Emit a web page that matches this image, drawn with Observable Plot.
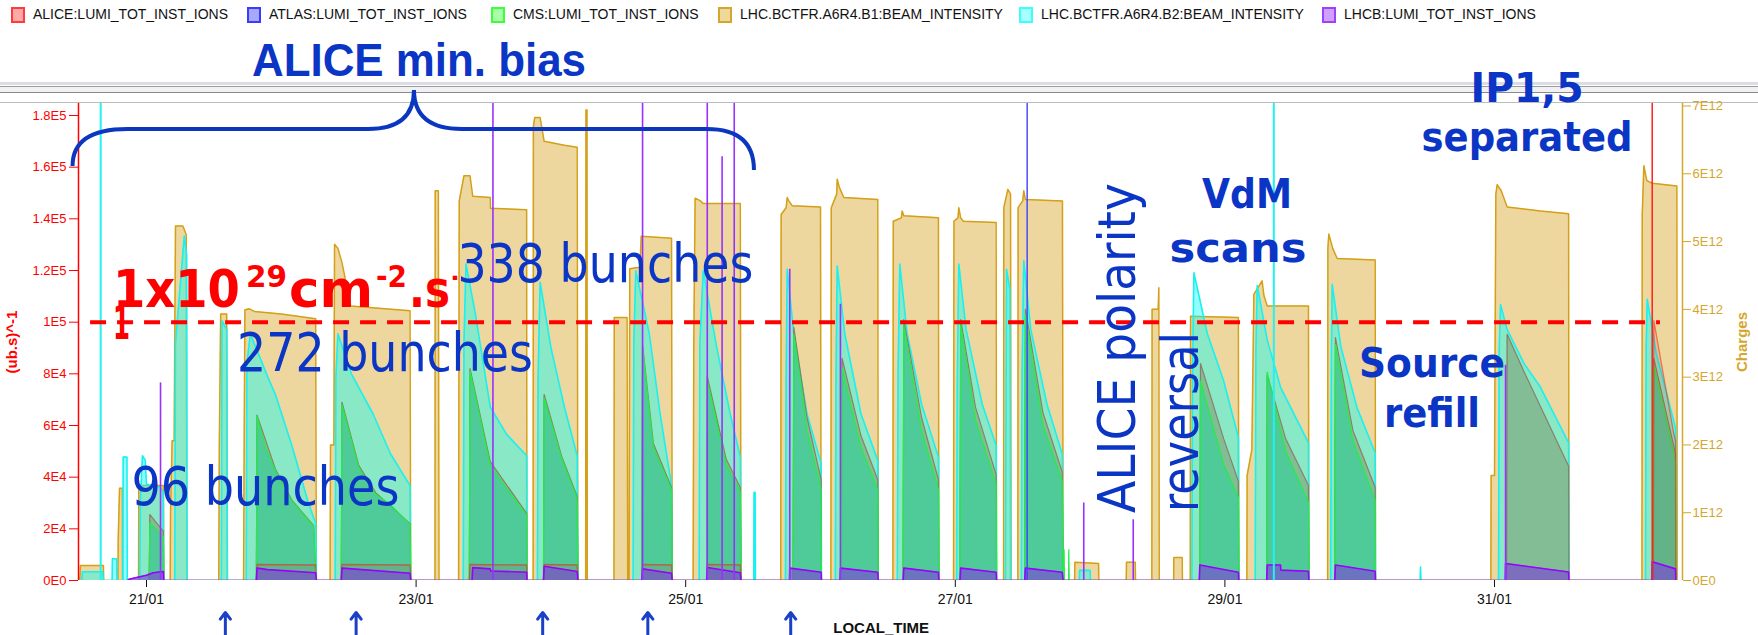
<!DOCTYPE html>
<html><head><meta charset="utf-8">
<script src="https://cdn.jsdelivr.net/npm/d3@7"></script>
<script src="https://cdn.jsdelivr.net/npm/@observablehq/plot@0.6"></script>
<style>
body{margin:0;background:#fff}
#wrap{position:relative;width:1758px;height:635px;overflow:hidden;background:#fff;font-family:"Liberation Sans",Arial,sans-serif}
.sw{position:absolute;top:7px;width:10px;height:12px;border:2px solid}
.lt{position:absolute;top:6px;font-size:14px;line-height:16px;white-space:nowrap;color:#111}
.hl{position:absolute;left:0;width:1758px}
#chart{position:absolute;left:0;top:28px}
</style></head><body>
<div id="wrap">
  <div class="hl" style="top:82px;height:3px;background:#dcdce4"></div>
  <div class="hl" style="top:86px;height:1px;background:#9a9a9a"></div>
  <div class="hl" style="top:87px;height:5px;background:#f1f1f4"></div>
  <div class="hl" style="top:92px;height:1px;background:#8a8a8a"></div>
  <div class="hl" style="top:102px;height:1px;background:#bdbdbd"></div>
  <div id="legend"></div>
  <div id="chart"></div>
</div>
<script>
// ---------- legend ----------
const legendNames = ["ALICE:LUMI_TOT_INST_IONS","ATLAS:LUMI_TOT_INST_IONS","CMS:LUMI_TOT_INST_IONS","LHC.BCTFR.A6R4.B1:BEAM_INTENSITY","LHC.BCTFR.A6R4.B2:BEAM_INTENSITY","LHCB:LUMI_TOT_INST_IONS"];
const legendBorders = ["#ff3b3b","#3b3bff","#3bff3b","#d4a72c","#3bffff","#a040ff"];
const legendFills = ["#ffa8a8","#a8a8ff","#a8ffa8","#eed99c","#a8ffff","#d0a0ff"];

// ---------- axes ----------
const days = [21,23,25,27,29,31];
const dayLabels = ["21/01","23/01","25/01","27/01","29/01","31/01"];
const lumiTicks = [0,2e4,4e4,6e4,8e4,1e5,1.2e5,1.4e5,1.6e5,1.8e5];
const lumiTickLabels = ["0E0","2E4","4E4","6E4","8E4","1E5","1.2E5","1.4E5","1.6E5","1.8E5"];
const chargeTicks = [0,1e12,2e12,3e12,4e12,5e12,6e12,7e12];
const chargeTickLabels = ["0E0","1E12","2E12","3E12","4E12","5E12","6E12","7E12"];

// ---------- data: [day of January, value] ----------
// beam intensities in units of 1E12 charges
const b1 = [
[20.505,0],[20.51,0.22],[20.68,0.22],[20.683,0],
[20.788,0],[20.79,0.6],[20.80,1.36],[20.82,1.36],[20.822,0],
[20.941,0],[20.943,1.40],[21.125,1.40],[21.128,0],
[21.176,0],[21.178,1.0],[21.19,2.06],[21.205,2.06],[21.215,5.23],[21.27,5.23],[21.295,5.1],[21.30,0],
[21.536,0],[21.54,1.96],[21.55,3.93],[21.595,3.93],[21.60,0],
[21.72,0],[21.725,2.2],[21.73,3.99],[21.76,4.01],[21.80,3.97],[22.0,3.93],[22.255,3.86],[22.26,0],
[22.362,0],[22.365,2.0],[22.39,2.0],[22.395,4.96],[22.42,4.9],[22.45,4.69],[22.515,4.05],[22.955,3.98],[22.96,0],
[23.14,0],[23.142,5.75],[23.165,5.75],[23.17,0],
[23.315,0],[23.32,5.6],[23.355,5.97],[23.40,5.97],[23.42,5.67],[23.55,5.65],[23.552,5.49],[23.82,5.47],[23.822,0],
[23.868,0],[23.87,6.7],[23.88,6.83],[23.92,6.83],[23.95,6.48],[24.10,6.42],[24.195,6.39],[24.2,0],
[24.258,0],[24.26,6.94],[24.268,6.94],[24.27,0],
[24.468,0],[24.47,3.88],[24.565,3.88],[24.57,0],
[24.58,0],[24.585,4.6],[24.66,4.62],[24.67,5.08],[24.895,5.05],[24.9,0],
[25.055,0],[25.06,3.5],[25.07,5.64],[25.11,5.6],[25.13,5.56],[25.405,5.56],[25.41,0],
[25.705,0],[25.708,5.4],[25.745,5.5],[25.753,5.65],[25.765,5.6],[25.79,5.53],[26.0,5.51],[26.005,0],
[26.077,0],[26.08,5.5],[26.12,5.7],[26.124,5.92],[26.14,5.8],[26.173,5.65],[26.425,5.62],[26.428,0],
[26.537,0],[26.54,5.3],[26.6,5.35],[26.606,5.45],[26.618,5.38],[26.875,5.35],[26.878,0],
[26.987,0],[26.99,5.3],[27.02,5.35],[27.026,5.5],[27.04,5.35],[27.06,5.3],[27.303,5.28],[27.306,0],
[27.358,0],[27.36,5.5],[27.39,5.77],[27.41,5.7],[27.414,0],
[27.464,0],[27.466,5.5],[27.5,5.6],[27.508,5.75],[27.52,5.62],[27.795,5.6],[27.8,0],
[27.885,0],[27.887,0.27],[28.063,0.25],[28.065,0],
[28.268,0],[28.27,0.27],[28.335,0.27],[28.337,0],
[28.458,0],[28.46,4.0],[28.505,4.0],[28.51,4.32],[28.513,0],
[28.62,0],[28.621,0.34],[28.683,0.34],[28.685,0],
[28.743,0],[28.745,3.9],[29.1,3.88],[29.103,0],
[29.163,0],[29.165,1.55],[29.2,1.93],[29.215,4.22],[29.276,4.42],[29.29,4.2],[29.314,4.05],[29.62,4.05],[29.623,0],
[29.762,0],[29.764,4.9],[29.771,5.11],[29.80,4.9],[29.833,4.75],[30.115,4.73],[30.117,0],
[30.973,0],[30.975,1.55],[31.0,1.55],[31.01,5.7],[31.02,5.84],[31.05,5.75],[31.094,5.51],[31.341,5.45],[31.55,5.41],[31.552,0],
[32.094,0],[32.096,5.4],[32.108,6.12],[32.13,5.9],[32.17,5.86],[32.353,5.82],[32.355,0]
];
const b2 = [
[20.52,0],[20.525,0.13],[20.675,0.13],[20.68,0],
[20.745,0],[20.747,0.32],[20.778,0.32],[20.78,0],
[20.825,0],[20.827,1.82],[20.855,1.82],[20.857,0],
[20.95,0],[20.955,1.2],[20.97,1.84],[20.99,1.78],[21.0,1.42],[21.10,1.38],[21.125,1.3],[21.128,0],
[21.21,0],[21.215,3.5],[21.28,5.08],[21.298,4.8],[21.30,0],
[21.555,0],[21.56,3.83],[21.595,3.7],[21.60,0],
[21.74,0],[21.745,3.2],[21.77,3.64],[21.90,3.0],[21.957,2.74],[22.08,1.98],[22.20,1.15],[22.255,0.84],[22.26,0],
[22.40,0],[22.405,3.0],[22.42,3.64],[22.52,3.05],[22.68,2.46],[22.81,1.87],[22.955,1.40],[22.96,0],
[23.35,0],[23.355,3.5],[23.37,4.67],[23.44,3.93],[23.55,2.56],[23.67,2.16],[23.82,1.84],[23.822,0],
[23.90,0],[23.905,3.0],[23.92,4.40],[24.0,3.44],[24.1,2.56],[24.195,1.84],[24.2,0],
[24.61,0],[24.615,3.5],[24.63,4.57],[24.73,3.64],[24.81,2.46],[24.895,1.40],[24.9,0],
[25.10,0],[25.105,3.5],[25.13,4.57],[25.23,3.44],[25.33,2.46],[25.405,1.82],[25.41,0],
[25.505,0],[25.507,1.3],[25.515,1.3],[25.517,0],
[25.74,0],[25.745,3.0],[25.753,4.59],[25.802,3.64],[25.90,2.46],[26.005,1.72],[26.007,0],
[26.11,0],[26.115,3.0],[26.124,4.64],[26.18,3.64],[26.3,2.46],[26.425,1.77],[26.428,0],
[26.57,0],[26.575,3.0],[26.588,4.67],[26.643,3.64],[26.75,2.6],[26.875,1.82],[26.878,0],
[27.01,0],[27.015,3.0],[27.026,4.67],[27.08,3.7],[27.2,2.6],[27.303,1.99],[27.306,0],
[27.372,0],[27.38,4.59],[27.405,4.3],[27.41,0],
[27.49,0],[27.495,3.0],[27.508,4.72],[27.56,3.7],[27.68,2.6],[27.793,1.87],[27.8,0],
[27.92,0],[27.922,0.15],[28.0,0.15],[28.002,0],
[28.755,0],[28.76,3.0],[28.77,4.54],[28.87,3.64],[28.99,2.95],[29.10,2.11],[29.103,0],
[29.225,0],[29.23,3.4],[29.24,4.35],[29.314,3.55],[29.413,2.85],[29.62,2.03],[29.623,0],
[29.785,0],[29.79,3.4],[29.796,4.37],[29.86,3.45],[29.98,2.55],[30.115,1.88],[30.117,0],
[30.449,0],[30.451,0.2],[30.455,0],
[31.03,0],[31.035,3.4],[31.045,4.07],[31.094,3.7],[31.22,3.2],[31.341,2.85],[31.55,2.03],[31.552,0],
[32.12,0],[32.125,3.4],[32.133,4.15],[32.2,3.35],[32.343,2.25],[32.345,0]
];
// luminosities in units of 1E4 (ub.s)^-1
const cms = [
[21.02,0],[21.025,2.22],[21.125,1.71],[21.128,0],
[21.815,0],[21.82,6.36],[21.883,5.13],[21.957,4.23],[22.08,3.06],[22.24,2.09],[22.255,0],
[22.445,0],[22.45,6.8],[22.575,4.36],[22.70,3.33],[22.81,2.94],[22.955,2.16],[22.96,0],
[23.395,0],[23.40,8.1],[23.55,4.48],[23.67,3.57],[23.82,2.54],[23.822,0],
[23.945,0],[23.95,7.07],[24.08,4.72],[24.195,3.17],[24.2,0],
[24.675,0],[24.68,9.01],[24.76,5.14],[24.895,3.51],[24.9,0],
[25.155,0],[25.16,7.72],[25.30,4.48],[25.405,3.44],[25.41,0],
[25.797,0],[25.802,9.53],[25.9,5.78],[26.005,3.51],[26.007,0],
[26.155,0],[26.16,8.24],[26.3,5.13],[26.425,3.51],[26.428,0],
[26.613,0],[26.618,9.9],[26.75,5.8],[26.875,3.51],[26.878,0],
[27.035,0],[27.04,9.9],[27.15,6.2],[27.303,3.71],[27.306,0],
[27.515,0],[27.52,10.3],[27.65,6.0],[27.793,3.84],[27.8,0],
[27.805,0],[27.807,1.19],[27.81,0],[27.84,0],[27.842,1.19],[27.845,0],
[28.815,0],[28.819,7.72],[28.99,4.5],[29.10,3.2],[29.103,0],
[29.31,0],[29.314,8.07],[29.45,5.0],[29.62,3.02],[29.623,0],
[29.815,0],[29.82,9.13],[29.95,5.4],[30.115,3.09],[30.117,0],
[32.178,0],[32.182,8.33],[32.343,4.61],[32.345,0]
];
const atlas = [
[21.02,0],[21.025,2.55],[21.125,1.9],[21.128,0],
[21.815,0],[21.82,6.4],[21.957,4.3],[22.08,3.1],[22.24,2.12],[22.255,0],
[22.445,0],[22.45,6.9],[22.575,4.45],[22.70,3.4],[22.955,2.2],[22.96,0],
[23.395,0],[23.40,8.2],[23.55,4.6],[23.82,2.6],[23.822,0],
[23.945,0],[23.95,7.2],[24.08,4.8],[24.195,3.25],[24.2,0],
[24.675,0],[24.68,9.1],[24.76,5.3],[24.895,3.6],[24.9,0],
[25.155,0],[25.16,7.9],[25.30,4.7],[25.405,3.6],[25.41,0],
[25.797,0],[25.802,9.8],[25.9,6.3],[26.005,3.9],[26.007,0],
[26.155,0],[26.16,8.6],[26.3,5.6],[26.425,3.9],[26.428,0],
[26.613,0],[26.618,10.1],[26.75,6.3],[26.875,3.9],[26.878,0],
[27.035,0],[27.04,10.1],[27.15,6.7],[27.303,4.1],[27.306,0],
[27.515,0],[27.52,10.5],[27.65,6.5],[27.793,4.2],[27.8,0],
[28.815,0],[28.819,8.4],[28.99,5.5],[29.10,3.84],[29.103,0],
[29.31,0],[29.314,7.94],[29.45,5.5],[29.62,3.68],[29.623,0],
[29.815,0],[29.82,9.4],[29.95,5.8],[30.115,3.6],[30.117,0],
[31.09,0],[31.094,9.53],[31.22,8.07],[31.341,6.74],[31.55,4.42],[31.552,0],
[32.178,0],[32.182,8.6],[32.343,4.9],[32.345,0]
];
const lhcb = [
[20.86,0],[20.87,0.05],[21.0,0.2],[21.05,0.3],[21.125,0.35],[21.128,0],
[21.815,0],[21.82,0.48],[21.90,0.42],[22.255,0.3],[22.26,0],
[22.445,0],[22.45,0.48],[22.955,0.28],[22.96,0],
[23.415,0],[23.42,0.5],[23.55,0.45],[23.552,0.37],[23.82,0.32],[23.822,0],
[23.945,0],[23.95,0.55],[24.195,0.35],[24.2,0],
[24.675,0],[24.68,0.45],[24.895,0.28],[24.9,0],
[25.155,0],[25.16,0.5],[25.405,0.3],[25.41,0],
[25.77,0],[25.772,0.48],[26.005,0.32],[26.007,0],
[26.145,0],[26.148,0.48],[26.425,0.32],[26.428,0],
[26.613,0],[26.618,0.48],[26.875,0.32],[26.878,0],
[27.035,0],[27.04,0.48],[27.303,0.32],[27.306,0],
[27.515,0],[27.52,0.48],[27.793,0.32],[27.8,0],
[28.81,0],[28.814,0.6],[29.10,0.32],[29.103,0],
[29.31,0],[29.314,0.6],[29.413,0.6],[29.415,0.4],[29.62,0.36],[29.623,0],
[29.815,0],[29.82,0.6],[30.115,0.36],[30.117,0],
[31.08,0],[31.082,0.66],[31.55,0.33],[31.552,0],
[32.168,0],[32.17,0.73],[32.343,0.45],[32.345,0]
];
const alice = [
[21.815,0],[21.82,0.62],[22.255,0.6],[22.26,0],
[22.445,0],[22.45,0.62],[22.955,0.6],[22.96,0],
[23.395,0],[23.40,0.62],[23.82,0.6],[23.822,0],
[23.945,0],[23.95,0.62],[24.195,0.6],[24.2,0],
[24.675,0],[24.68,0.62],[24.895,0.6],[24.9,0],
[25.155,0],[25.16,0.62],[25.405,0.6],[25.41,0],
[32.178,0],[32.182,10.06],[32.33,5.68],[32.343,5.4],[32.345,0]
];
// single-sample spikes (off-scale ones reach the top of the frame)
const b2Spikes = [[20.66,8],[29.363,8]];                 // 1E12 charges
const lhcbSpikes = [[21.104,7.65],[23.57,20],[24.68,20],[25.16,20],[25.27,16.4],[25.36,20],[25.772,12.05],[26.148,10.69],[27.953,3.0],[28.32,2.35],[31.082,8.33]]; // 1E4
const atlasSpikes = [[27.533,20]];
const aliceSpikes = [[32.17,20]];

// reference level and annotations
const levelValue = 1e5;
const levelFrom = 20.585, levelTo = 32.231;
const arrowDays = [21.585, 22.555, 23.939, 24.719, 25.779];
const noteTexts = ["ALICE min. bias","338 bunches","272 bunches","96 bunches","ALICE polarity","reversal","VdM","scans","IP1,5","separated","Source","refill"];
const noteDays  = [21.786, 23.31, 21.675, 20.892, 28.337, 28.804, 29.168, 29.101, 31.245, 31.245, 30.54, 30.54];
const noteVals  = [1.951e5, 1.1536e5, 8.09e4, 2.903e4, 2.594e4, 2.632e4, 1.44e5, 1.231e5, 1.8503e5, 1.6607e5, 7.858e4, 5.923e4];
const formulaDay = 20.755, formulaVal = 1.0568e5, formulaVal2 = 9.33e4;
const braceDays = [20.455, 22.988, 25.51];
const braceVals = [1.6026e5, 1.7458e5, 1.8968e5, 1.587e5]; // left end, bar level, apex, right end

// ---------- build ----------
const leg = document.getElementById("legend");
const legX = [11, 247, 491, 718, 1019, 1322];
legendNames.forEach((n,i) => {
  const s = document.createElement("div"); s.className="sw";
  s.style.left = legX[i]+"px"; s.style.borderColor = legendBorders[i]; s.style.background = legendFills[i];
  const t = document.createElement("div"); t.className="lt"; t.style.left=(legX[i]+22)+"px"; t.textContent=n;
  leg.appendChild(s); leg.appendChild(t);
});

const date = d => new Date(Date.UTC(2013,0,1) + (d-1)*864e5);
const K = 1.8368e5/7e12;           // charges -> left-axis units
const yMax = 1.8465e5;
const xStart = 20.4955, xEnd = 32.3947;
const ser = (arr, f) => arr.map(([d,v]) => ({t: date(d), y: v*f}));
const B1 = ser(b1, 1e12*K), B2 = ser(b2, 1e12*K), CMS = ser(cms, 1e4), ATL = ser(atlas, 1e4), LHCB = ser(lhcb, 1e4), ALI = ser(alice, 1e4);
const GOLD = "#d4a72c", RED = "#ff0000", BLUE = "#0a35c5";

const area = (data, fill, op) => Plot.areaY(data, {x:"t", y:"y", fill, fillOpacity:op, curve:"linear", clip:true});
const line = (data, stroke, w, op=1) => Plot.lineY(data, {x:"t", y:"y", stroke, strokeWidth:w, strokeOpacity:op, clip:true});
const spikes = (arr, f, stroke, w) => Plot.ruleX(ser(arr, f), {x:"t", y1:0, y2:"y", stroke, strokeWidth:w, clip:true});

const plot = Plot.plot({
  width:1758, height:607, marginLeft:78, marginRight:76, marginTop:75, marginBottom:55,
  x:{type:"utc", domain:[date(xStart), date(xEnd)]},
  y:{domain:[0,yMax]},
  style:{fontFamily:"'Liberation Sans', Arial, sans-serif", fontSize:"13px", background:"transparent", overflow:"visible"},
  marks:[
    area(B1, "#d4a017", 0.42),
    line(B1, "#d4a017", 1.5),
    area(B2, "#00ffff", 0.42),
    line(B2, "#19f0f0", 1.6),
    area(ATL, "#7a8a5a", 0.45),
    line(ATL, "#8a7f66", 1.2),
    area(CMS, "#2dd49d", 0.6),
    line(CMS, "#22ee44", 1.2),
    area(ALI, "#ff0000", 0.12),
    line(ALI, "#e8301c", 1.3, 0.6),
    area(LHCB, "#7a45d4", 0.65),
    line(LHCB, "#9900ff", 1.6),
    spikes(b2Spikes, 1e12*K, "#22f2f2", 2),
    spikes(lhcbSpikes, 1e4, "#9a30ff", 1.6),
    spikes(atlasSpikes, 1e4, "#4040ff", 1.4),
    spikes(aliceSpikes, 1e4, "#ff2020", 1.5),
    Plot.ruleX([date(xStart)], {y1:0, y2:yMax, stroke:RED, strokeWidth:1.5}),
    Plot.ruleX([date(xEnd)], {y1:0, y2:yMax, stroke:GOLD, strokeWidth:1.5}),
    Plot.ruleY([levelValue], {x1:date(levelFrom), x2:date(levelTo), stroke:RED, strokeWidth:4, strokeDasharray:"16,11"}),
    Plot.axisY({ticks:lumiTicks, tickFormat:d => lumiTickLabels[lumiTicks.findIndex(t => Math.abs(t-d) < 1)], anchor:"left", tickSize:9, tickPadding:3, color:RED, fontSize:13, label:null}),
    Plot.axisY({ticks:chargeTicks.map(c => c*K), tickFormat:d => chargeTickLabels[chargeTicks.findIndex(c => Math.abs(c*K-d) < 1)], anchor:"right", tickSize:8, tickPadding:2, color:GOLD, fontSize:13, label:null}),
    Plot.axisX({ticks:days.map(date), tickFormat:d => dayLabels[days.findIndex(x => Math.abs(date(x)-d) < 1000)], tickSize:7, tickPadding:7, color:"#111", fontSize:14, label:null}),
    Plot.text([{t:date(xStart), s:"(ub.s)^-1"}], {x:"t", y:yMax/2, text:"s", dx:-66, rotate:-90, textAnchor:"middle", fill:RED, fontWeight:"bold", fontSize:15}),
    Plot.text([{t:date(xEnd), s:"Charges"}], {x:"t", y:yMax/2, text:"s", dx:60, rotate:-90, textAnchor:"middle", fill:GOLD, fontWeight:"bold", fontSize:15}),
    Plot.text([{t:date(26.45), s:"LOCAL_TIME"}], {x:"t", text:"s", frameAnchor:"bottom", dy:52, lineAnchor:"bottom", fontWeight:"bold", fontSize:15, fill:"#111"}),
    Plot.arrow(arrowDays, {x1:d => date(d), x2:d => date(d), y1:-2.2e4, y2:-1.24e4, stroke:"#1a40c8", strokeWidth:3, headLength:14, headAngle:75})
  ]
});
document.getElementById("chart").appendChild(plot);

// ---------- annotations positioned through the plot's scales ----------
const sx = plot.scale("x"), sy = plot.scale("y");
const X = d => sx.apply(date(d)), Y = v => sy.apply(v);
const svg = d3.select(plot);
const g = svg.append("g").attr("text-anchor","start");

const styles = [
  {font:"'Liberation Sans'", w:"bold", size:46, len:334, anchor:"start", rot:0},
  {font:"'DejaVu Sans'", w:"normal", size:54, len:296, anchor:"start", rot:0},
  {font:"'DejaVu Sans'", w:"normal", size:54, len:296, anchor:"start", rot:0},
  {font:"'DejaVu Sans'", w:"normal", size:54, len:268, anchor:"start", rot:0},
  {font:"'DejaVu Sans'", w:"normal", size:52, len:330, anchor:"start", rot:-90},
  {font:"'DejaVu Sans'", w:"normal", size:52, len:180, anchor:"start", rot:-90},
  {font:"'DejaVu Sans'", w:"bold", size:40, len:90, anchor:"middle", rot:0},
  {font:"'DejaVu Sans'", w:"bold", size:40, len:137, anchor:"middle", rot:0},
  {font:"'DejaVu Sans'", w:"bold", size:40, len:113, anchor:"middle", rot:0},
  {font:"'DejaVu Sans'", w:"bold", size:40, len:211, anchor:"middle", rot:0},
  {font:"'DejaVu Sans'", w:"bold", size:40, len:146, anchor:"middle", rot:0},
  {font:"'DejaVu Sans'", w:"bold", size:40, len:96, anchor:"middle", rot:0}
];
noteTexts.forEach((txt,i) => {
  const s = styles[i];
  g.append("text")
    .attr("transform", `translate(${X(noteDays[i])},${Y(noteVals[i])}) rotate(${s.rot})`)
    .attr("font-family", s.font).attr("font-weight", s.w).attr("font-size", s.size)
    .attr("text-anchor", s.anchor).attr("fill", BLUE)
    .attr("textLength", s.len).attr("lengthAdjust", "spacingAndGlyphs")
    .text(txt);
});

// red luminosity label (each piece its own text element)
const fx = X(formulaDay), fy = Y(formulaVal);
const parts = [["1x10",0,0,52,127],["29",133,-20,30,41],["cm",176,0,52,84],["-2",263,-20,30,31],[".s",296,0,52,41],["-",339,-20,30,6]];
parts.forEach(([s,dx,dy,size,len]) => {
  g.append("text").attr("x", fx+dx).attr("y", fy+dy).attr("text-anchor","start")
    .attr("font-family","'DejaVu Sans'").attr("font-weight","bold").attr("fill",RED)
    .attr("font-size", size).attr("textLength", len).attr("lengthAdjust","spacingAndGlyphs").text(s);
});
g.append("text").attr("x", fx).attr("y", Y(formulaVal2)).attr("text-anchor","start").attr("font-family","'DejaVu Sans'").attr("font-weight","bold")
  .attr("font-size",46).attr("fill",RED).attr("textLength",17).attr("lengthAdjust","spacingAndGlyphs").text("1");

// brace over the ALICE min. bias period
const xL = X(braceDays[0]), xA = X(braceDays[1]), xR = X(braceDays[2]);
const yL = Y(braceVals[0]), yH = Y(braceVals[1]), yA = Y(braceVals[2]), yR = Y(braceVals[3]);
g.insert("path", ":first-child")
  .attr("d", `M${xL},${yL} Q${xL},${yH} ${xL+55},${yH} L${xA-46},${yH} Q${xA},${yH} ${xA},${yA} Q${xA},${yH} ${xA+48},${yH} L${xR-47},${yH} Q${xR},${yH} ${xR},${yR}`)
  .attr("fill","none").attr("stroke","#0a36c0").attr("stroke-width",4);
</script>
</body></html>
